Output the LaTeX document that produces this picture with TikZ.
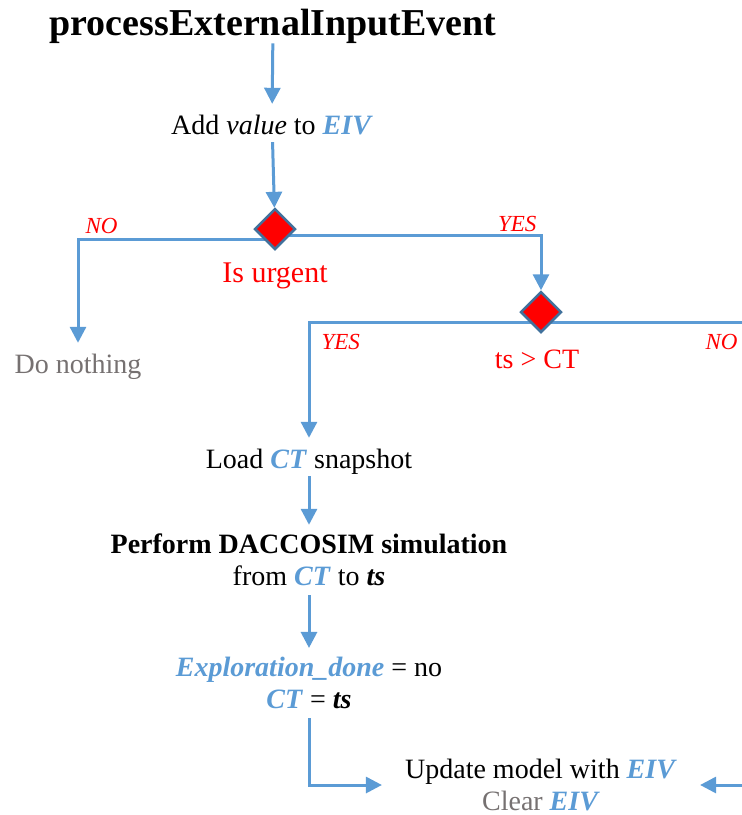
\documentclass[tikz,border=0pt]{standalone}
\usepackage{fontspec}
\setmainfont{Liberation Serif}
\usetikzlibrary{shapes.geometric,arrows.meta,backgrounds,calc}

\definecolor{lineblue}{HTML}{5B9BD5}
\definecolor{edgeblue}{HTML}{41719C}
\definecolor{txtgray}{HTML}{767171}
\newcommand{\bv}[1]{\textcolor{lineblue}{\textbf{\textit{#1}}}}

\begin{document}
\begin{tikzpicture}[x=1pt,y=-1pt,
	flow/.style={draw=lineblue,line width=3pt,-{Triangle[width=16pt,length=16pt]}},
	wire/.style={draw=lineblue,line width=3pt},
	txt/.style={font=\fontsize{28}{32}\selectfont,inner xsep=3pt,inner ysep=4pt,text height=26pt,text depth=4pt,anchor=base},
	blk/.style={font=\fontsize{28}{32}\selectfont,align=center,inner xsep=3pt,inner ysep=9pt},
	cond/.style={diamond,draw=edgeblue,fill=red,line width=2.5pt,minimum size=41pt,inner sep=0pt},
	yesno/.style={text=red,font=\fontsize{23}{26}\selectfont\itshape}]

\useasboundingbox (0,0) rectangle (742,815);

%标题
\node[font=\fontsize{38}{42}\selectfont\bfseries,inner sep=0pt,anchor=base] (T) at (273,35) {processExternalInputEvent};
\node[txt] (A) at (272,134) {Add \textit{value} to \bv{EIV}};

%判断
\node[cond] (D1) at (275,229) {};
\node[txt,text=red,font=\fontsize{30}{32}\selectfont] (C1) at (275,282) {Is urgent};
\node[txt,text=txtgray] (N) at (78,373) {Do nothing};

\node[cond] (D2) at (541,312) {};
\node[txt,text=red] (C2) at (537,368) {ts > CT};
\coordinate (R1) at (742,322);

%模拟
\node[txt] (L) at (309,468) {Load \bv{CT} snapshot};
\node[blk] (P) at (309,560) {\textbf{Perform DACCOSIM simulation}\\from \bv{CT} to \textbf{\textit{ts}}};
\node[blk] (E) at (309,683) {\bv{Exploration\_done} = no\\\bv{CT} = \textbf{\textit{ts}}};
\node[blk,inner xsep=23pt] (U) at (541,785) {Update model with \bv{EIV}\\\textcolor{txtgray}{Clear} \bv{EIV}};
\coordinate (R2) at (742,785);

\node[yesno,anchor=base west] (no1) at (82,233) {NO};
\node[yesno,anchor=base east] (yes1) at (540,231) {YES};
\node[yesno,anchor=base west] (yes2) at (318,349) {YES};
\node[yesno,anchor=base east] (no2) at (741,349) {NO};

\begin{pgfonlayer}{background}
\draw[flow] (T) -- (A);
\draw[flow] (A) -- (D1);
\draw[flow] ($(D1.center)+(0,10)$) -| (N.north);
\draw[flow] ($(D1.center)+(0,6)$) -| (D2.north);
\draw[flow] ($(D2.center)+(0,10)$) -| (L.north);
\draw[wire] ($(D2.center)+(0,10)$) -- (R1);
\draw[flow] (L) -- (P);
\draw[flow] (P) -- (E);
\draw[flow] (E.south) |- (U.west);
\draw[flow] (R2) -- (U.east);
\end{pgfonlayer}

\end{tikzpicture}
\end{document}
